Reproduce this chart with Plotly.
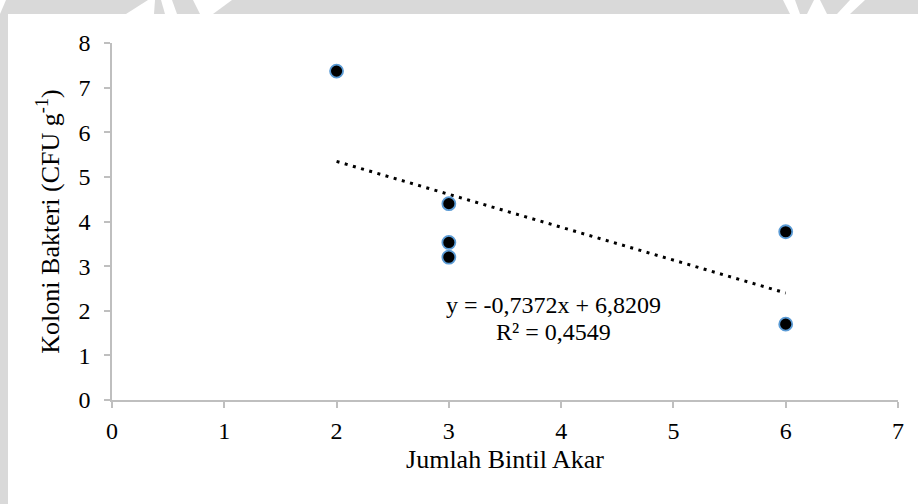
import plotly.graph_objects as go

# Observations: root nodule count vs. bacterial colonies
jumlah_bintil = [2, 3, 3, 3, 6, 6]
koloni_bakteri = [7.37, 4.40, 3.53, 3.20, 3.77, 1.70]

# Linear trendline coefficients and fit quality
slope = -0.7372
intercept = 6.8209
r_squared = 0.4549

x_ticks = [0, 1, 2, 3, 4, 5, 6, 7]
y_ticks = [0, 1, 2, 3, 4, 5, 6, 7, 8]

W, H = 918, 504
M = dict(l=112, r=20, t=43, b=104)

trend_x = [min(jumlah_bintil), max(jumlah_bintil)]
trend_y = [slope * v + intercept for v in trend_x]


def fmt(v, nd):
    return f"{v:.{nd}f}".replace(".", ",")


eq_line = f"y = {fmt(slope, 4)}x + {fmt(intercept, 4)}"
r2_line = f"R² = {fmt(r_squared, 4)}"

FONT = "Liberation Serif"
AXIS_GRAY = "#bfbfbf"

fig = go.Figure()
fig.add_trace(go.Scatter(
    x=trend_x, y=trend_y, mode="lines",
    line=dict(color="black", width=3, dash="3px,5.5px"),
    hoverinfo="skip", showlegend=False,
))
fig.add_trace(go.Scatter(
    x=jumlah_bintil, y=koloni_bakteri, mode="markers",
    marker=dict(size=13, color="black",
                line=dict(color="#5B9BD5", width=1.8)),
    showlegend=False,
))

# trendline label, two tightly spaced centred lines
for txt, ty in [(eq_line, 2.13), (r2_line, 1.53)]:
    fig.add_annotation(
        x=3.935, y=ty, xref="x", yref="y", text=txt, showarrow=False,
        xanchor="center", yanchor="middle",
        font=dict(family=FONT, size=24, color="black"),
    )

# page frame: grey band along top and left with light watermark strokes
pw = W - M["l"] - M["r"]
ph = H - M["t"] - M["b"]


def px(xp):
    return (xp - M["l"]) / pw


def py(yp):
    return 1 - (yp - M["t"]) / ph


def poly(points, color):
    d = "M " + " L ".join(f"{px(a)},{py(b)}" for a, b in points) + " Z"
    fig.add_shape(type="path", path=d, xref="paper", yref="paper",
                  fillcolor=color, line=dict(width=0), layer="below")


GREY = "#d9d9d9"
poly([(0, 0), (W, 0), (W, 14), (0, 14)], GREY)
poly([(0, 0), (8, 0), (8, H), (0, H)], GREY)
for shape in [
    [(0, 0), (6, 0), (0, 14)],
    [(126, 14), (148, 0), (155, 0), (154, 14)],
    [(161, 0), (172, 0), (177, 14), (165, 14)],
    [(193, 0), (232, 0), (213, 14), (200, 14)],
    [(783, 0), (795, 0), (800, 14), (790, 14)],
    [(807, 14), (814, 0), (820, 0), (827, 14)],
    [(850, 0), (865, 0), (850, 14), (837, 14)],
]:
    poly(shape, "white")

axis_common = dict(
    showline=True, linecolor=AXIS_GRAY, linewidth=1.5,
    ticks="outside", ticklen=6, tickcolor=AXIS_GRAY, tickwidth=1.5,
    showgrid=False, zeroline=False,
    tickfont=dict(family=FONT, size=24, color="black"),
)

fig.update_xaxes(
    range=[0, 7], tickvals=x_ticks, ticklabelstandoff=2,
    title=dict(text="Jumlah Bintil Akar", standoff=7,
               font=dict(family=FONT, size=26, color="black")),
    **axis_common,
)
fig.update_yaxes(
    range=[0, 8], tickvals=y_ticks, ticklabelstandoff=9,
    title=dict(text="Koloni Bakteri (CFU g<sup>-1</sup>)", standoff=11,
               font=dict(family=FONT, size=26, color="black")),
    **axis_common,
)

fig.update_layout(
    width=W, height=H, margin=M,
    paper_bgcolor="white", plot_bgcolor="rgba(0,0,0,0)",
)

fig.write_html("out.html")
